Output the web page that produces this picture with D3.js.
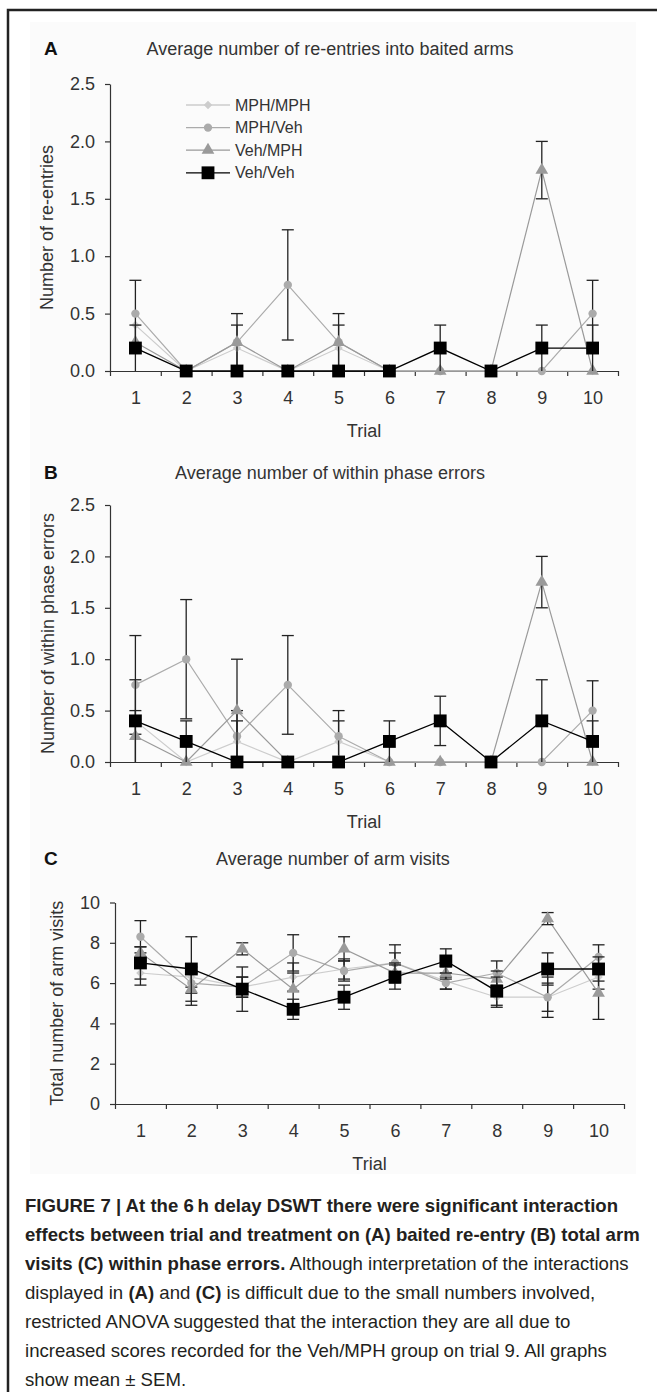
<!DOCTYPE html>
<html>
<head>
<meta charset="utf-8">
<script src="https://cdnjs.cloudflare.com/ajax/libs/d3/7.8.5/d3.min.js"></script>
<style>
  body { margin: 0; background: #fff; }
  text { font-family: "Liberation Sans", Arial, sans-serif; }
</style>
</head>
<body>
<svg id="fig" width="657" height="1392"></svg>
<script>
var trials = [1, 2, 3, 4, 5, 6, 7, 8, 9, 10];
var groups = ["MPH/MPH", "MPH/Veh", "Veh/MPH", "Veh/Veh"];

// A: re-entries into baited arms (mean, SEM)
var reentryMphMph = [0.4, 0, 0.2, 0, 0.2, 0, 0, 0, 0, 0];
var reentryMphVeh = [0.5, 0, 0.25, 0.75, 0.25, 0, 0, 0, 0, 0.5];
var reentryVehMph = [0.25, 0, 0.25, 0, 0.25, 0, 0, 0, 1.75, 0];
var reentryVehVeh = [0.2, 0, 0, 0, 0, 0, 0.2, 0, 0.2, 0.2];
var reentrySemMphMph = [0, 0, 0.2, 0, 0.2, 0, 0, 0, 0, 0];
var reentrySemMphVeh = [0.29, 0, 0.25, 0.48, 0.25, 0, 0, 0, 0, 0.29];
var reentrySemVehMph = [0, 0, 0, 0, 0, 0, 0, 0, 0.25, 0];
var reentrySemVehVeh = [0.2, 0, 0, 0, 0, 0, 0.2, 0, 0.2, 0.2];

// B: within phase errors
var errorsMphMph = [0.4, 0, 0.2, 0, 0.2, 0, 0, 0, 0, 0];
var errorsMphVeh = [0.75, 1.0, 0.25, 0.75, 0.25, 0, 0, 0, 0, 0.5];
var errorsVehMph = [0.25, 0, 0.5, 0, 0, 0, 0, 0, 1.75, 0];
var errorsVehVeh = [0.4, 0.2, 0, 0, 0, 0.2, 0.4, 0, 0.4, 0.2];
var errorsSemMphMph = [0, 0, 0.2, 0, 0.2, 0, 0, 0, 0, 0];
var errorsSemMphVeh = [0.48, 0.58, 0.25, 0.48, 0.25, 0, 0, 0, 0, 0.29];
var errorsSemVehMph = [0.25, 0, 0.5, 0, 0, 0, 0, 0, 0.25, 0];
var errorsSemVehVeh = [0.4, 0.2, 0, 0, 0, 0.2, 0.24, 0, 0.4, 0.2];

// C: total arm visits
var visitsMphMph = [6.5, 6.3, 5.8, 6.3, 6.7, 7.0, 6.1, 5.3, 5.3, 6.3];
var visitsMphVeh = [8.3, 6.0, 5.8, 7.5, 6.6, 7.0, 6.0, 6.5, 5.3, 7.3];
var visitsVehMph = [7.5, 5.7, 7.7, 5.7, 7.7, 6.5, 6.5, 6.2, 9.2, 5.5];
var visitsVehVeh = [7.0, 6.7, 5.7, 4.7, 5.3, 6.3, 7.1, 5.6, 6.7, 6.7];
var visitsSemMphMph = [0.6, 0.5, 0.5, 0.7, 0.5, 0.5, 0.4, 0.5, 0.7, 0.6];
var visitsSemMphVeh = [0.8, 0.5, 0.5, 0.9, 0.5, 0.9, 0.3, 0.6, 1.0, 0.6];
var visitsSemVehMph = [0.3, 0.8, 0.3, 0.8, 0.6, 0.5, 0.3, 0.4, 0.3, 1.3];
var visitsSemVehVeh = [0.8, 1.6, 1.1, 0.5, 0.6, 0.6, 0.6, 0.7, 0.8, 0.6];

var yTicksAB = [0, 0.5, 1.0, 1.5, 2.0, 2.5];
var yTicksC = [0, 2, 4, 6, 8, 10];

var captionLines = [
  [["FIGURE 7 | At the 6\u2009h delay DSWT there were significant interaction", true]],
  [["effects between trial and treatment on (A) baited re-entry (B) total arm", true]],
  [["visits (C) within phase errors.", true], [" Although interpretation of the interactions", false]],
  [["displayed in ", false], ["(A)", true], [" and ", false], ["(C)", true], [" is difficult due to the small numbers involved,", false]],
  [["restricted ANOVA suggested that the interaction they are all due to", false]],
  [["increased scores recorded for the Veh/MPH group on trial 9. All graphs", false]],
  [["show mean \u00b1 SEM.", false]]
];

var colors = ["#cdcdcd", "#ababab", "#9a9a9a", "#000"];
var symbols = [d3.symbolSquare, d3.symbolCircle, d3.symbolTriangle, d3.symbolSquare];
var symSizes = [36, 55, 70, 165];
var symRotate = [45, 0, 0, 0];

var svg = d3.select("#fig");

// slightly off-white scanned chart area
svg.append("rect").attr("x", 30).attr("y", 22).attr("width", 606).attr("height", 1152)
  .attr("fill", "#fbfbfb");

// frame
svg.append("path").attr("d", "M8,1392V10H657").attr("fill", "none")
  .attr("stroke", "#222").attr("stroke-width", 2.5);

var panels = [
  { letter: "A", title: "Average number of re-entries into baited arms", ylabel: "Number of re-entries",
    values: [reentryMphMph, reentryMphVeh, reentryVehMph, reentryVehVeh],
    sems: [reentrySemMphMph, reentrySemMphVeh, reentrySemVehMph, reentrySemVehVeh],
    ticks: yTicksAB, fmt: ".1f", x0: 110, x1: 618, yTop: 84, yBot: 371, titleY: 48, titleX: 330,
    ylabelX: 47, legend: true },
  { letter: "B", title: "Average number of within phase errors", ylabel: "Number of within phase errors",
    values: [errorsMphMph, errorsMphVeh, errorsVehMph, errorsVehVeh],
    sems: [errorsSemMphMph, errorsSemMphVeh, errorsSemVehMph, errorsSemVehVeh],
    ticks: yTicksAB, fmt: ".1f", x0: 110, x1: 618, yTop: 505, yBot: 762, titleY: 472, titleX: 330,
    ylabelX: 48, legend: false },
  { letter: "C", title: "Average number of arm visits", ylabel: "Total number of arm visits",
    values: [visitsMphMph, visitsMphVeh, visitsVehMph, visitsVehVeh],
    sems: [visitsSemMphMph, visitsSemMphVeh, visitsSemVehMph, visitsSemVehVeh],
    ticks: yTicksC, fmt: "d", x0: 115, x1: 624, yTop: 902.5, yBot: 1104, titleY: 858, titleX: 333,
    ylabelX: 57, legend: false }
];

panels.forEach(function (p) {
  var g = svg.append("g");

  var x = d3.scalePoint().domain(trials).range([p.x0, p.x1]).padding(0.5);
  var xEdge = d3.scaleLinear().domain([0, trials.length]).range([p.x0, p.x1]);
  var y = d3.scaleLinear().domain([0, d3.max(p.ticks)]).range([p.yBot, p.yTop]);

  g.append("text").attr("x", 44).attr("y", p.titleY + 7)
    .attr("font-size", 19).attr("font-weight", "bold").attr("fill", "#111").text(p.letter);
  g.append("text").attr("x", p.titleX).attr("y", p.titleY + 6.5).attr("text-anchor", "middle")
    .attr("font-size", 18).attr("fill", "#333").text(p.title);

  // y axis
  var yAxis = g.append("g").attr("transform", "translate(" + p.x0 + ",0)")
    .call(d3.axisLeft(y).tickValues(p.ticks).tickFormat(d3.format(p.fmt))
      .tickSize(5).tickSizeOuter(0).tickPadding(10));
  // x axis: tick marks between trials, labels under each trial
  var xTicks = g.append("g").attr("transform", "translate(0," + p.yBot + ")")
    .call(d3.axisBottom(xEdge).ticks(10).tickSize(5).tickSizeOuter(0).tickFormat(""));
  var xLabels = g.append("g").attr("transform", "translate(0," + p.yBot + ")")
    .call(d3.axisBottom(x).tickSize(0).tickPadding(20));
  xLabels.select(".domain").remove();

  [yAxis, xTicks, xLabels].forEach(function (a) {
    a.selectAll("path, line").attr("stroke", "#333").attr("stroke-width", 1.2);
    a.selectAll("text").attr("font-size", 18).attr("fill", "#333")
      .attr("font-family", "Liberation Sans, Arial, sans-serif");
  });

  g.append("text").attr("x", (p.x0 + p.x1) / 2).attr("y", p.yBot + 65.5)
    .attr("text-anchor", "middle").attr("font-size", 18).attr("fill", "#333").text("Trial");
  g.append("text")
    .attr("transform", "translate(" + p.ylabelX + "," + (p.yTop + p.yBot) / 2 + ") rotate(-90)")
    .attr("text-anchor", "middle").attr("dy", "0.35em")
    .attr("font-size", 18).attr("fill", "#333").text(p.ylabel);

  var line = d3.line().x(function (d, i) { return x(trials[i]); }).y(function (d) { return y(d); });

  p.values.forEach(function (vals, s) {
    var sg = g.append("g");
    sg.append("path").datum(vals).attr("d", line).attr("fill", "none")
      .attr("stroke", colors[s]).attr("stroke-width", s === 3 ? 1.3 : 1.2);

    // error bars (mean +/- SEM)
    var bars = sg.selectAll(".err").data(vals.map(function (v, i) {
      return { t: trials[i], v: v, e: p.sems[s][i] };
    }).filter(function (d) { return d.e > 0; })).enter().append("g")
      .attr("stroke", "#222").attr("stroke-width", 1.3);
    bars.append("line")
      .attr("x1", function (d) { return x(d.t); }).attr("x2", function (d) { return x(d.t); })
      .attr("y1", function (d) { return y(d.v + d.e); })
      .attr("y2", function (d) { return y(Math.max(0, d.v - d.e)); });
    bars.append("line")
      .attr("x1", function (d) { return x(d.t) - 6; }).attr("x2", function (d) { return x(d.t) + 6; })
      .attr("y1", function (d) { return y(d.v + d.e); }).attr("y2", function (d) { return y(d.v + d.e); });
    bars.filter(function (d) { return d.v - d.e > 0.001; }).append("line")
      .attr("x1", function (d) { return x(d.t) - 6; }).attr("x2", function (d) { return x(d.t) + 6; })
      .attr("y1", function (d) { return y(d.v - d.e); }).attr("y2", function (d) { return y(d.v - d.e); });

    sg.selectAll(".pt").data(vals).enter().append("path")
      .attr("d", d3.symbol().type(symbols[s]).size(symSizes[s]))
      .attr("transform", function (d, i) {
        return "translate(" + x(trials[i]) + "," + y(d) + ") rotate(" + symRotate[s] + ")";
      })
      .attr("fill", colors[s]);
  });

  if (p.legend) {
    var leg = g.selectAll(".leg").data(groups).enter().append("g")
      .attr("transform", function (d, i) { return "translate(0," + (105 + i * 22.6) + ")"; });
    leg.append("line").attr("x1", 186).attr("x2", 230)
      .attr("stroke", function (d, i) { return colors[i]; }).attr("stroke-width", 1.3);
    leg.append("path")
      .attr("d", function (d, i) { return d3.symbol().type(symbols[i]).size(symSizes[i])(); })
      .attr("transform", function (d, i) { return "translate(208,0) rotate(" + symRotate[i] + ")"; })
      .attr("fill", function (d, i) { return colors[i]; });
    leg.append("text").attr("x", 235).attr("dy", "0.35em").attr("font-size", 16)
      .attr("fill", "#333").text(function (d) { return d; });
  }
});

// caption
var cap = svg.append("g");
captionLines.forEach(function (parts, i) {
  var t = cap.append("text").attr("x", 25).attr("y", 1212 + i * 29)
    .attr("font-size", 18.6).attr("fill", "#231f20");
  parts.forEach(function (pt) {
    t.append("tspan").attr("font-weight", pt[1] ? "bold" : "normal").text(pt[0]);
  });
});
</script>
</body>
</html>
